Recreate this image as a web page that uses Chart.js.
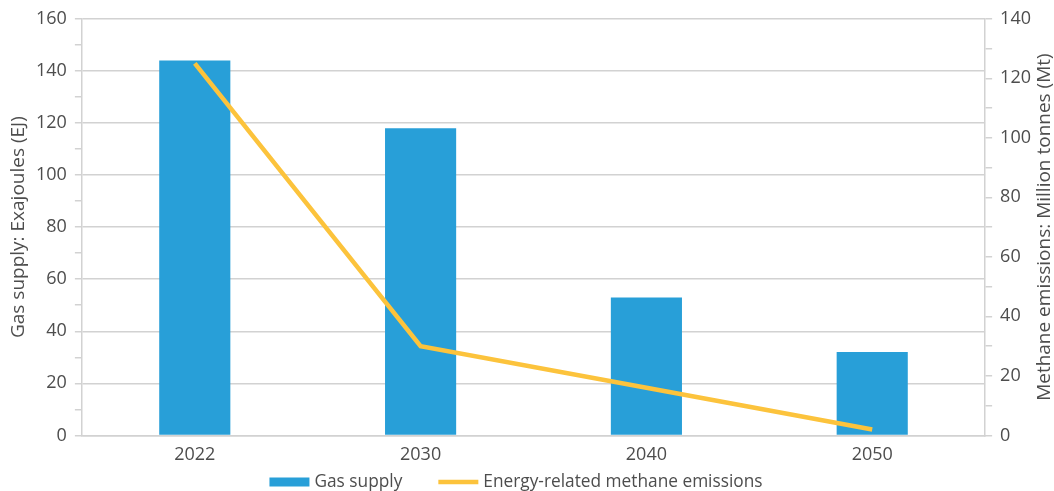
<!DOCTYPE html>
<html>
<head>
<meta charset="utf-8">
<script src="https://cdn.jsdelivr.net/npm/chart.js@4.4.1/dist/chart.umd.min.js"></script>
<style>
  html, body { margin: 0; padding: 0; background: #ffffff; }
  #wrap { width: 1054px; height: 491px; }
</style>
</head>
<body>
<div id="wrap"><canvas id="c" width="1054" height="491"></canvas></div>
<script>
// Gas supply (EJ) and energy-related methane emissions (Mt) by year
const years = ['2022', '2030', '2040', '2050'];
const gasSupply = [144, 118, 53, 32];
const methaneEmissions = [125, 30, 16, 2];
const leftAxisTitle = 'Gas supply: Exajoules (EJ)';
const rightAxisTitle = 'Methane emissions: Million tonnes (Mt)';

const TEXT = '#4d4d4d';
const GRID = '#d2d2d2';
const FONT = "'Open Sans', 'DejaVu Sans', sans-serif";
const FONT_SIZE = 18;

// label every 20, minor tick marks every 10
const everyOther = v => (v % 20 === 0 ? String(v) : '');

// Bottom legend (box / line swatch + text) and both axis titles,
// each reading bottom-to-top.
const extrasPlugin = {
  id: 'extras',
  afterDraw(chart) {
    const ctx = chart.ctx;
    const area = chart.chartArea;
    const midY = (area.top + area.bottom) / 2;
    ctx.save();
    ctx.fillStyle = TEXT;
    ctx.textBaseline = 'middle';

    // axis titles
    ctx.font = `${FONT_SIZE + 1}px ${FONT}`;
    ctx.textAlign = 'center';
    [[19, leftAxisTitle], [1045, rightAxisTitle]].forEach(([tx, label]) => {
      ctx.save();
      ctx.translate(tx, midY);
      ctx.rotate(-Math.PI / 2);
      ctx.fillText(label, 0, 0);
      ctx.restore();
    });

    // legend
    ctx.font = `17.3px ${FONT}`;
    const swatchW = 40, textGap = 5, itemGap = 36, y = 482;
    const items = chart.data.datasets.map(ds => ({
      text: ds.label,
      isLine: ds.type === 'line',
      color: ds.type === 'line' ? ds.borderColor : ds.backgroundColor,
      w: swatchW + textGap + ctx.measureText(ds.label).width
    }));
    const total = items.reduce((s, it) => s + it.w, 0) + itemGap * (items.length - 1);
    let x = 516 - total / 2;
    ctx.textAlign = 'left';
    items.forEach(it => {
      if (it.isLine) {
        ctx.strokeStyle = it.color;
        ctx.lineWidth = 4.5;
        ctx.beginPath();
        ctx.moveTo(x, y);
        ctx.lineTo(x + swatchW, y);
        ctx.stroke();
      } else {
        ctx.fillStyle = it.color;
        ctx.fillRect(x, y - 4.5, swatchW, 9);
      }
      ctx.fillStyle = TEXT;
      ctx.fillText(it.text, x + swatchW + textGap, y);
      x += it.w + itemGap;
    });
    ctx.restore();
  }
};

new Chart(document.getElementById('c'), {
  data: {
    labels: years,
    datasets: [
      {
        type: 'bar',
        label: 'Gas supply',
        data: gasSupply,
        yAxisID: 'y',
        backgroundColor: '#289fd8',
        borderWidth: 0,
        categoryPercentage: 1,
        barPercentage: 0.315,
        order: 1
      },
      {
        type: 'line',
        label: 'Energy-related methane emissions',
        data: methaneEmissions,
        yAxisID: 'y2',
        borderColor: '#fcc33c',
        backgroundColor: '#fcc33c',
        borderWidth: 4.5,
        pointRadius: 0,
        tension: 0,
        order: 0
      }
    ]
  },
  plugins: [extrasPlugin],
  options: {
    responsive: false,
    animation: false,
    layout: { padding: { top: 12, right: 15, left: 28, bottom: 16 } },
    plugins: {
      legend: { display: false },
      tooltip: { enabled: false }
    },
    scales: {
      x: {
        offset: true,
        grid: { display: false, drawTicks: false },
        border: { display: true, color: GRID, width: 1.5 },
        ticks: { color: TEXT, font: { family: FONT, size: FONT_SIZE }, padding: 9 }
      },
      y: {
        position: 'left',
        min: 0,
        max: 160,
        ticks: {
          stepSize: 10,
          autoSkip: false,
          color: TEXT,
          font: { family: FONT, size: FONT_SIZE },
          padding: 8,
          callback: everyOther
        },
        grid: {
          color: ctx => (ctx.tick && ctx.tick.value % 20 === 0 ? GRID : 'rgba(0,0,0,0)'),
          tickColor: GRID,
          tickLength: 7,
          lineWidth: 1.5
        },
        border: { display: true, color: GRID, width: 1.5 }
      },
      y2: {
        position: 'right',
        min: 0,
        max: 140,
        ticks: {
          stepSize: 10,
          autoSkip: false,
          color: TEXT,
          font: { family: FONT, size: FONT_SIZE },
          padding: 8,
          callback: everyOther
        },
        grid: {
          drawOnChartArea: false,
          tickColor: GRID,
          tickLength: 7,
          lineWidth: 1.5
        },
        border: { display: true, color: GRID, width: 1.5 }
      }
    }
  }
});
</script>
</body>
</html>
